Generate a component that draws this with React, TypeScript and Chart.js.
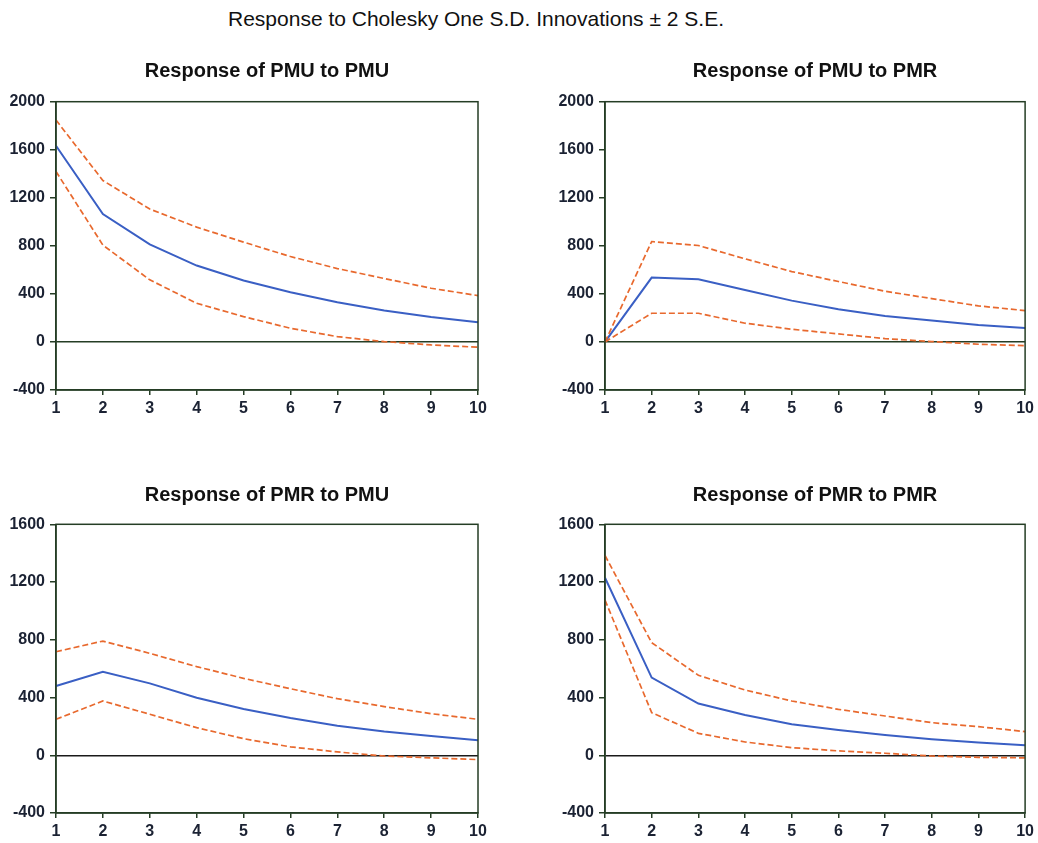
import React, { useEffect, useRef } from "react";
import { Chart, registerables } from "chart.js";

Chart.register(...registerables);

const periods = ["1", "2", "3", "4", "5", "6", "7", "8", "9", "10"];

const pmuPmuMid = [1633, 1065, 812, 636, 511, 414, 331, 261, 208, 164];
const pmuPmuUp = [1847, 1344, 1106, 956, 831, 711, 611, 528, 447, 386];
const pmuPmuLo = [1419, 806, 517, 322, 211, 114, 44, 3, -25, -44];

const pmuPmrMid = [0, 536, 522, 433, 344, 272, 217, 178, 142, 117];
const pmuPmrUp = [0, 836, 803, 692, 586, 503, 422, 361, 300, 261];
const pmuPmrLo = [0, 239, 239, 156, 106, 67, 28, 3, -19, -31];

const pmrPmuMid = [480, 579, 498, 399, 321, 258, 205, 164, 134, 104];
const pmrPmuUp = [717, 791, 706, 614, 533, 461, 392, 337, 288, 249];
const pmrPmuLo = [249, 376, 284, 191, 115, 58, 23, -5, -18, -30];

const pmrPmrMid = [1230, 538, 358, 279, 215, 175, 141, 111, 88, 69];
const pmrPmrUp = [1384, 780, 554, 452, 376, 318, 272, 226, 198, 164];
const pmrPmrLo = [1075, 295, 152, 92, 53, 30, 14, -5, -14, -18];

const topRange = { min: -400, max: 2000, step: 400 };
const bottomRange = { min: -400, max: 1600, step: 400 };

const FRAME = "#253d25";
const BLUE = "#3a5fc4";
const ORANGE = "#e8692e";
const TICK_TEXT = "#1b2233";
const FONT = "'Liberation Sans', Arial, sans-serif";

const framePlugin = {
  id: "frameBox",
  afterDatasetsDraw(chart: any) {
    const { ctx, chartArea } = chart;
    ctx.save();
    ctx.strokeStyle = FRAME;
    ctx.lineWidth = 1.5;
    ctx.strokeRect(chartArea.left, chartArea.top, chartArea.right - chartArea.left, chartArea.bottom - chartArea.top);
    ctx.restore();
  },
};

type PanelProps = {
  title: string;
  mid: number[];
  up: number[];
  lo: number[];
  range: { min: number; max: number; step: number };
  left: number;
  top: number;
  width: number;
  height: number;
  xAxisHeight: number;
  padTop: number;
  padBottom: number;
  padRight: number;
  zeroColor: string;
};

function Panel(p: PanelProps) {
  const ref = useRef<HTMLCanvasElement | null>(null);
  useEffect(() => {
    if (!ref.current) return;
    const dashed = (data: number[]) => ({
      data,
      borderColor: ORANGE,
      borderWidth: 1.7,
      borderDash: [6, 3],
      pointRadius: 0,
      tension: 0,
      fill: false,
    });
    const chart = new Chart(ref.current, {
      type: "line",
      data: {
        labels: periods,
        datasets: [
          dashed(p.up),
          dashed(p.lo),
          { data: p.mid, borderColor: BLUE, borderWidth: 2, pointRadius: 0, tension: 0, fill: false },
        ],
      },
      options: {
        animation: false,
        responsive: false,
        maintainAspectRatio: false,
        layout: { padding: { left: 0, right: p.padRight, top: 0, bottom: 0 } },
        plugins: {
          legend: { display: false },
          tooltip: { enabled: false },
          title: {
            display: true,
            fullSize: false,
            text: p.title,
            color: "#111",
            font: { family: FONT, size: 20, weight: "bold" },
            padding: { top: p.padTop, bottom: p.padBottom },
          },
        },
        scales: {
          x: {
            type: "category",
            offset: false,
            afterFit: (s: any) => {
              s.height = p.xAxisHeight;
            },
            grid: {
              display: true,
              drawOnChartArea: false,
              drawTicks: true,
              tickLength: 5,
              tickColor: FRAME,
              lineWidth: 1.5,
            },
            border: { display: true, color: FRAME, width: 1.5 },
            ticks: {
              color: TICK_TEXT,
              font: { family: FONT, size: 16, weight: "bold" },
              padding: 4,
              maxRotation: 0,
              autoSkip: false,
            },
          },
          y: {
            min: p.range.min,
            max: p.range.max,
            afterFit: (s: any) => {
              s.width = 56;
            },
            grid: {
              display: true,
              drawOnChartArea: true,
              drawTicks: true,
              tickLength: 6,
              color: (c: any) => (c.tick && c.tick.value === 0 ? p.zeroColor : "rgba(0,0,0,0)"),
              tickColor: FRAME,
              lineWidth: 1.5,
            },
            border: { display: true, color: FRAME, width: 1.5 },
            ticks: {
              stepSize: p.range.step,
              color: TICK_TEXT,
              font: { family: FONT, size: 16, weight: "bold" },
              padding: 5,
              callback: (v: any) => String(v),
            },
          },
        },
      },
      plugins: [framePlugin],
    } as any);
    return () => chart.destroy();
  }, []);
  return (
    <div style={{ position: "absolute", left: p.left, top: p.top, width: p.width, height: p.height }}>
      <canvas ref={ref} width={p.width} height={p.height} style={{ width: p.width, height: p.height, display: "block" }} />
    </div>
  );
}

export default function App() {
  return (
    <div style={{ position: "absolute", left: 0, top: 0, width: 1038, height: 843, background: "#fff", overflow: "hidden" }}>
      <div
        style={{
          position: "absolute",
          left: 0,
          top: 6,
          width: 952,
          textAlign: "center",
          fontFamily: FONT,
          fontSize: 21,
          lineHeight: "25px",
          color: "#111",
        }}
      >
        Response to Cholesky One S.D. Innovations ± 2 S.E.
      </div>
      <Panel
        title="Response of PMU to PMU"
        mid={pmuPmuMid}
        up={pmuPmuUp}
        lo={pmuPmuLo}
        range={topRange}
        left={0}
        top={50}
        width={500}
        height={375}
        xAxisHeight={35}
        padTop={9}
        padBottom={18.7}
        padRight={22}
        zeroColor={FRAME}
      />
      <Panel
        title="Response of PMU to PMR"
        mid={pmuPmrMid}
        up={pmuPmrUp}
        lo={pmuPmrLo}
        range={topRange}
        left={549}
        top={50}
        width={489}
        height={375}
        xAxisHeight={35}
        padTop={9}
        padBottom={18.7}
        padRight={11}
        zeroColor={FRAME}
      />
      <Panel
        title="Response of PMR to PMU"
        mid={pmrPmuMid}
        up={pmrPmuUp}
        lo={pmrPmuLo}
        range={bottomRange}
        left={0}
        top={473}
        width={500}
        height={370}
        xAxisHeight={30}
        padTop={10.7}
        padBottom={16.6}
        padRight={22}
        zeroColor="#1a1a1a"
      />
      <Panel
        title="Response of PMR to PMR"
        mid={pmrPmrMid}
        up={pmrPmrUp}
        lo={pmrPmrLo}
        range={bottomRange}
        left={549}
        top={473}
        width={489}
        height={370}
        xAxisHeight={30}
        padTop={10.7}
        padBottom={16.6}
        padRight={11}
        zeroColor="#1a1a1a"
      />
    </div>
  );
}
